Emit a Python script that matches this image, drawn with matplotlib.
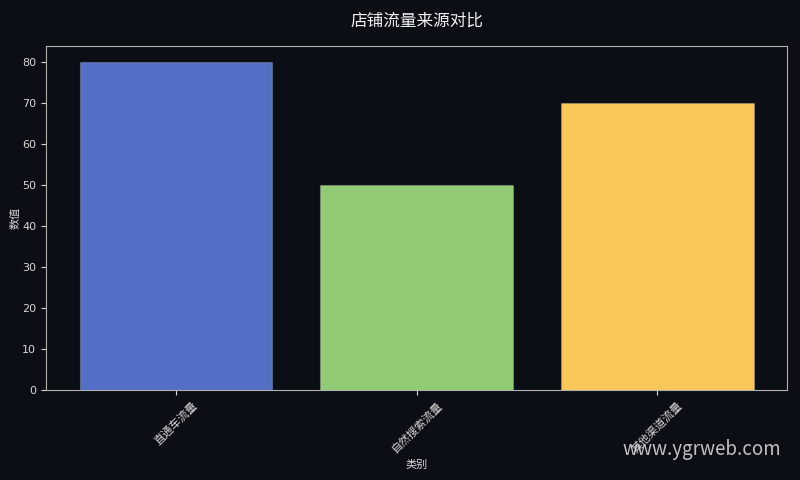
import matplotlib
matplotlib.use("Agg")
import matplotlib.pyplot as plt

plt.rcParams['font.family'] = ['DejaVu Sans', 'Noto Sans CJK SC']

categories = ['直通车流量', '自然搜索流量', '其他渠道流量']
values = [80, 50, 70]
colors = ['#5470c6', '#91cc75', '#fac858']

bg = '#0b0e14'
fg = '#d8d8d8'
cjk = ['Noto Sans CJK SC', 'DejaVu Sans']

fig = plt.figure(figsize=(8, 4.8), dpi=100, facecolor=bg)
ax = fig.add_axes([0.0575, 0.1875, 0.9265, 0.7165])
ax.set_facecolor(bg)

ax.bar(categories, values, color=colors, edgecolor='#ffffff30', linewidth=0.8)

ax.set_title('店铺流量来源对比', color='#f0f0f0', fontsize=12, pad=15, family=cjk)
ax.set_xlabel('类别', color=fg, fontsize=8, family=cjk)
ax.set_ylabel('数值', color=fg, fontsize=8, family=cjk, labelpad=1)
ax.tick_params(colors=fg, labelsize=8)
ax.tick_params(axis='x', rotation=45)
for lab in ax.get_xticklabels():
    lab.set_family(cjk)
for spine in ax.spines.values():
    spine.set_color('#b0b0b0')

fig.text(0.976, 0.052, 'www.ygrweb.com', color='#e0e0e0', fontsize=13.5,
         ha='right', va='baseline', alpha=0.85, family=cjk)

fig.savefig('out.png', dpi=100, facecolor=bg)
